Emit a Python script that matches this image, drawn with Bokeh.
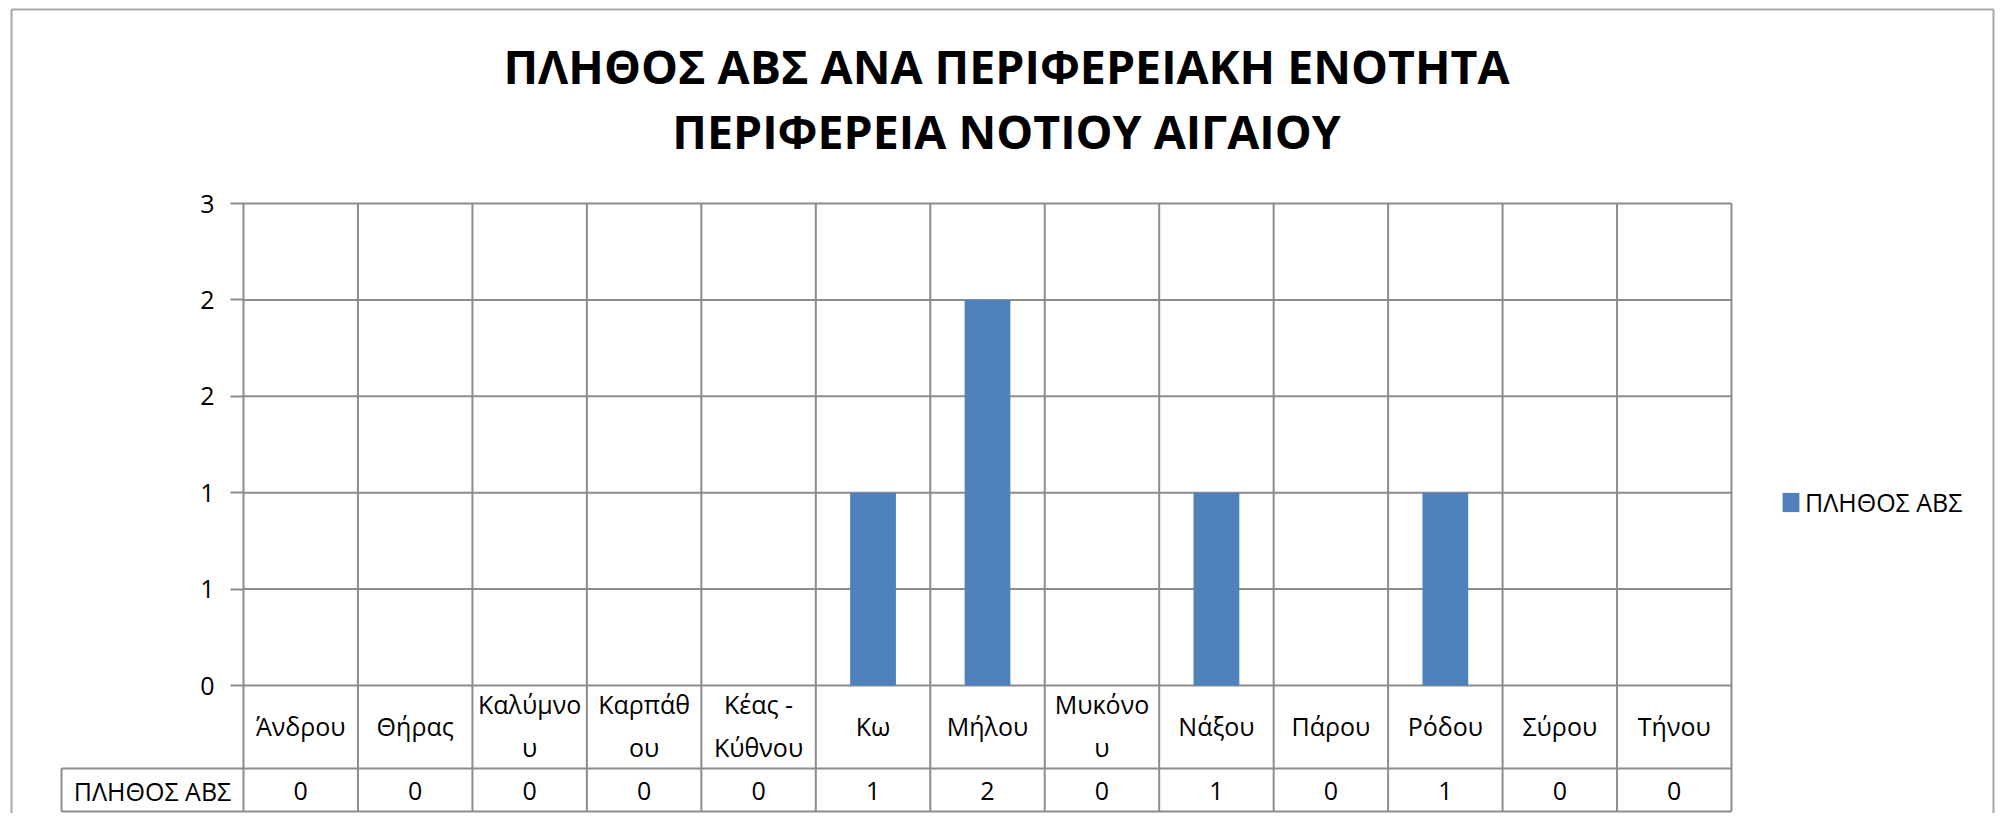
from bokeh.plotting import figure
from bokeh.models import Range1d, FixedTicker, ColumnDataSource, Legend, LegendItem
from bokeh.embed import file_html
from bokeh.resources import INLINE
from bokeh.core.properties import value

# ---------------- data ----------------
categories = ["Άνδρου", "Θήρας", "Καλύμνου", "Καρπάθου", "Κέας - Κύθνου", "Κω",
              "Μήλου", "Μυκόνου", "Νάξου", "Πάρου", "Ρόδου", "Σύρου", "Τήνου"]
category_labels = ["Άνδρου", "Θήρας", "Καλύμνο\nυ", "Καρπάθ\nου", "Κέας -\nΚύθνου", "Κω",
                   "Μήλου", "Μυκόνο\nυ", "Νάξου", "Πάρου", "Ρόδου", "Σύρου", "Τήνου"]
counts = [0, 0, 0, 0, 0, 1, 2, 0, 1, 0, 1, 0, 0]
series_name = "ΠΛΗΘΟΣ ΑΒΣ"
title_lines = ["ΠΛΗΘΟΣ ΑΒΣ ΑΝΑ ΠΕΡΙΦΕΡΕΙΑΚΗ ΕΝΟΤΗΤΑ", "ΠΕΡΙΦΕΡΕΙΑ ΝΟΤΙΟΥ ΑΙΓΑΙΟΥ"]
y_ticks = [0, 0.5, 1, 1.5, 2, 2.5]
y_tick_labels = ["0", "1", "1", "2", "2", "3"]

# ---------------- layout (pixels) ----------------
W, H = 1995, 813
PL, PR, PT, PB = 243, 1731, 203, 685     # plot area
TAB_L, TAB_T, TAB_B = 61, 768, 811       # data table
n = len(categories)
KX = (PR - PL) / n
KY = (PB - PT) / y_ticks[-1]


def dx(px):
    return (px - PL) / KX


def dy(py):
    return (PB - py) / KY


FONT = value("Open Sans")
FS = "25px"
GRID = "#8c8c8c"
BAR = "#4F81BD"

p = figure(width=W, height=H, output_backend="svg", toolbar_location=None, title=None,
           x_range=Range1d(dx(0), dx(W)), y_range=Range1d(dy(H), dy(0)),
           x_axis_location=None, y_axis_location="left", min_border=0)
p.grid.visible = False
p.outline_line_color = None
p.background_fill_color = "white"
p.border_fill_color = "white"

# y axis
ax = p.yaxis[0]
ax.fixed_location = 0
ax.ticker = FixedTicker(ticks=y_ticks)
ax.major_label_overrides = {t: l for t, l in zip(y_ticks, y_tick_labels)}
ax.axis_line_color = None
ax.minor_tick_line_color = None
ax.major_tick_in = 0
ax.major_tick_out = 13
ax.major_tick_line_color = GRID
ax.major_tick_line_width = 2
ax.major_label_standoff = 16
ax.major_label_text_font = "Open Sans"
ax.major_label_text_font_size = FS
ax.major_label_text_color = "black"

centers = [i + 0.5 for i in range(n)]
src = ColumnDataSource(dict(x=centers, top=counts, cat=categories,
                            lab=category_labels, val=[str(v) for v in counts]))

# horizontal gridlines
p.segment(x0=[0] * len(y_ticks), y0=y_ticks, x1=[n] * len(y_ticks), y1=y_ticks,
          line_color=GRID, line_width=2)
# vertical category separators (plot + label row + table)
p.segment(x0=list(range(n + 1)), y0=[y_ticks[-1]] * (n + 1),
          x1=list(range(n + 1)), y1=[dy(TAB_B)] * (n + 1),
          line_color=GRID, line_width=2)
# table borders
p.segment(x0=[dx(TAB_L), dx(TAB_L), dx(TAB_L)], y0=[dy(TAB_T), dy(TAB_B), dy(TAB_T)],
          x1=[n, n, dx(TAB_L)], y1=[dy(TAB_T), dy(TAB_B), dy(TAB_B)],
          line_color=GRID, line_width=2)
# outer chart border
p.segment(x0=[dx(11), dx(11), dx(1993)], y0=[dy(9), dy(9), dy(9)],
          x1=[dx(11), dx(1993), dx(1993)], y1=[dy(840), dy(9), dy(840)],
          line_color="#a6a6a6", line_width=2)

bars = p.vbar(x="x", top="top", width=0.4, source=src, fill_color=BAR, line_color=None)

# category labels
p.text(x="x", y=dy(725), text="lab", source=src, text_align="center",
       text_baseline="middle", text_font=FONT, text_font_size=FS,
       text_color="black", text_line_height=1.28)
# table values
p.text(x="x", y=dy((TAB_T + TAB_B) / 2 + 1), text="val", source=src, text_align="center",
       text_baseline="middle", text_font=FONT, text_font_size=FS, text_color="black")
# table row label
p.text(x=[dx((TAB_L + PL) / 2)], y=[dy((TAB_T + TAB_B) / 2 + 1)], text=[series_name],
       text_align="center", text_baseline="middle", text_font=FONT, text_font_size=FS,
       text_color="black")

# title
p.text(x=[dx(1006)] * 2, y=[dy(65), dy(130)], text=title_lines, text_align="center",
       text_baseline="alphabetic", text_font=FONT, text_font_style="bold",
       text_font_size="46.5px", text_color="black")

legend = Legend(items=[LegendItem(label=series_name, renderers=[bars])],
                location=(1780, 294), glyph_width=21, glyph_height=24, label_standoff=4,
                padding=0, margin=0, border_line_color=None, background_fill_alpha=0,
                label_text_font="Open Sans", label_text_font_size=FS,
                label_text_color="black")
p.add_layout(legend)

open("out.html", "w").write(file_html(p, INLINE))
